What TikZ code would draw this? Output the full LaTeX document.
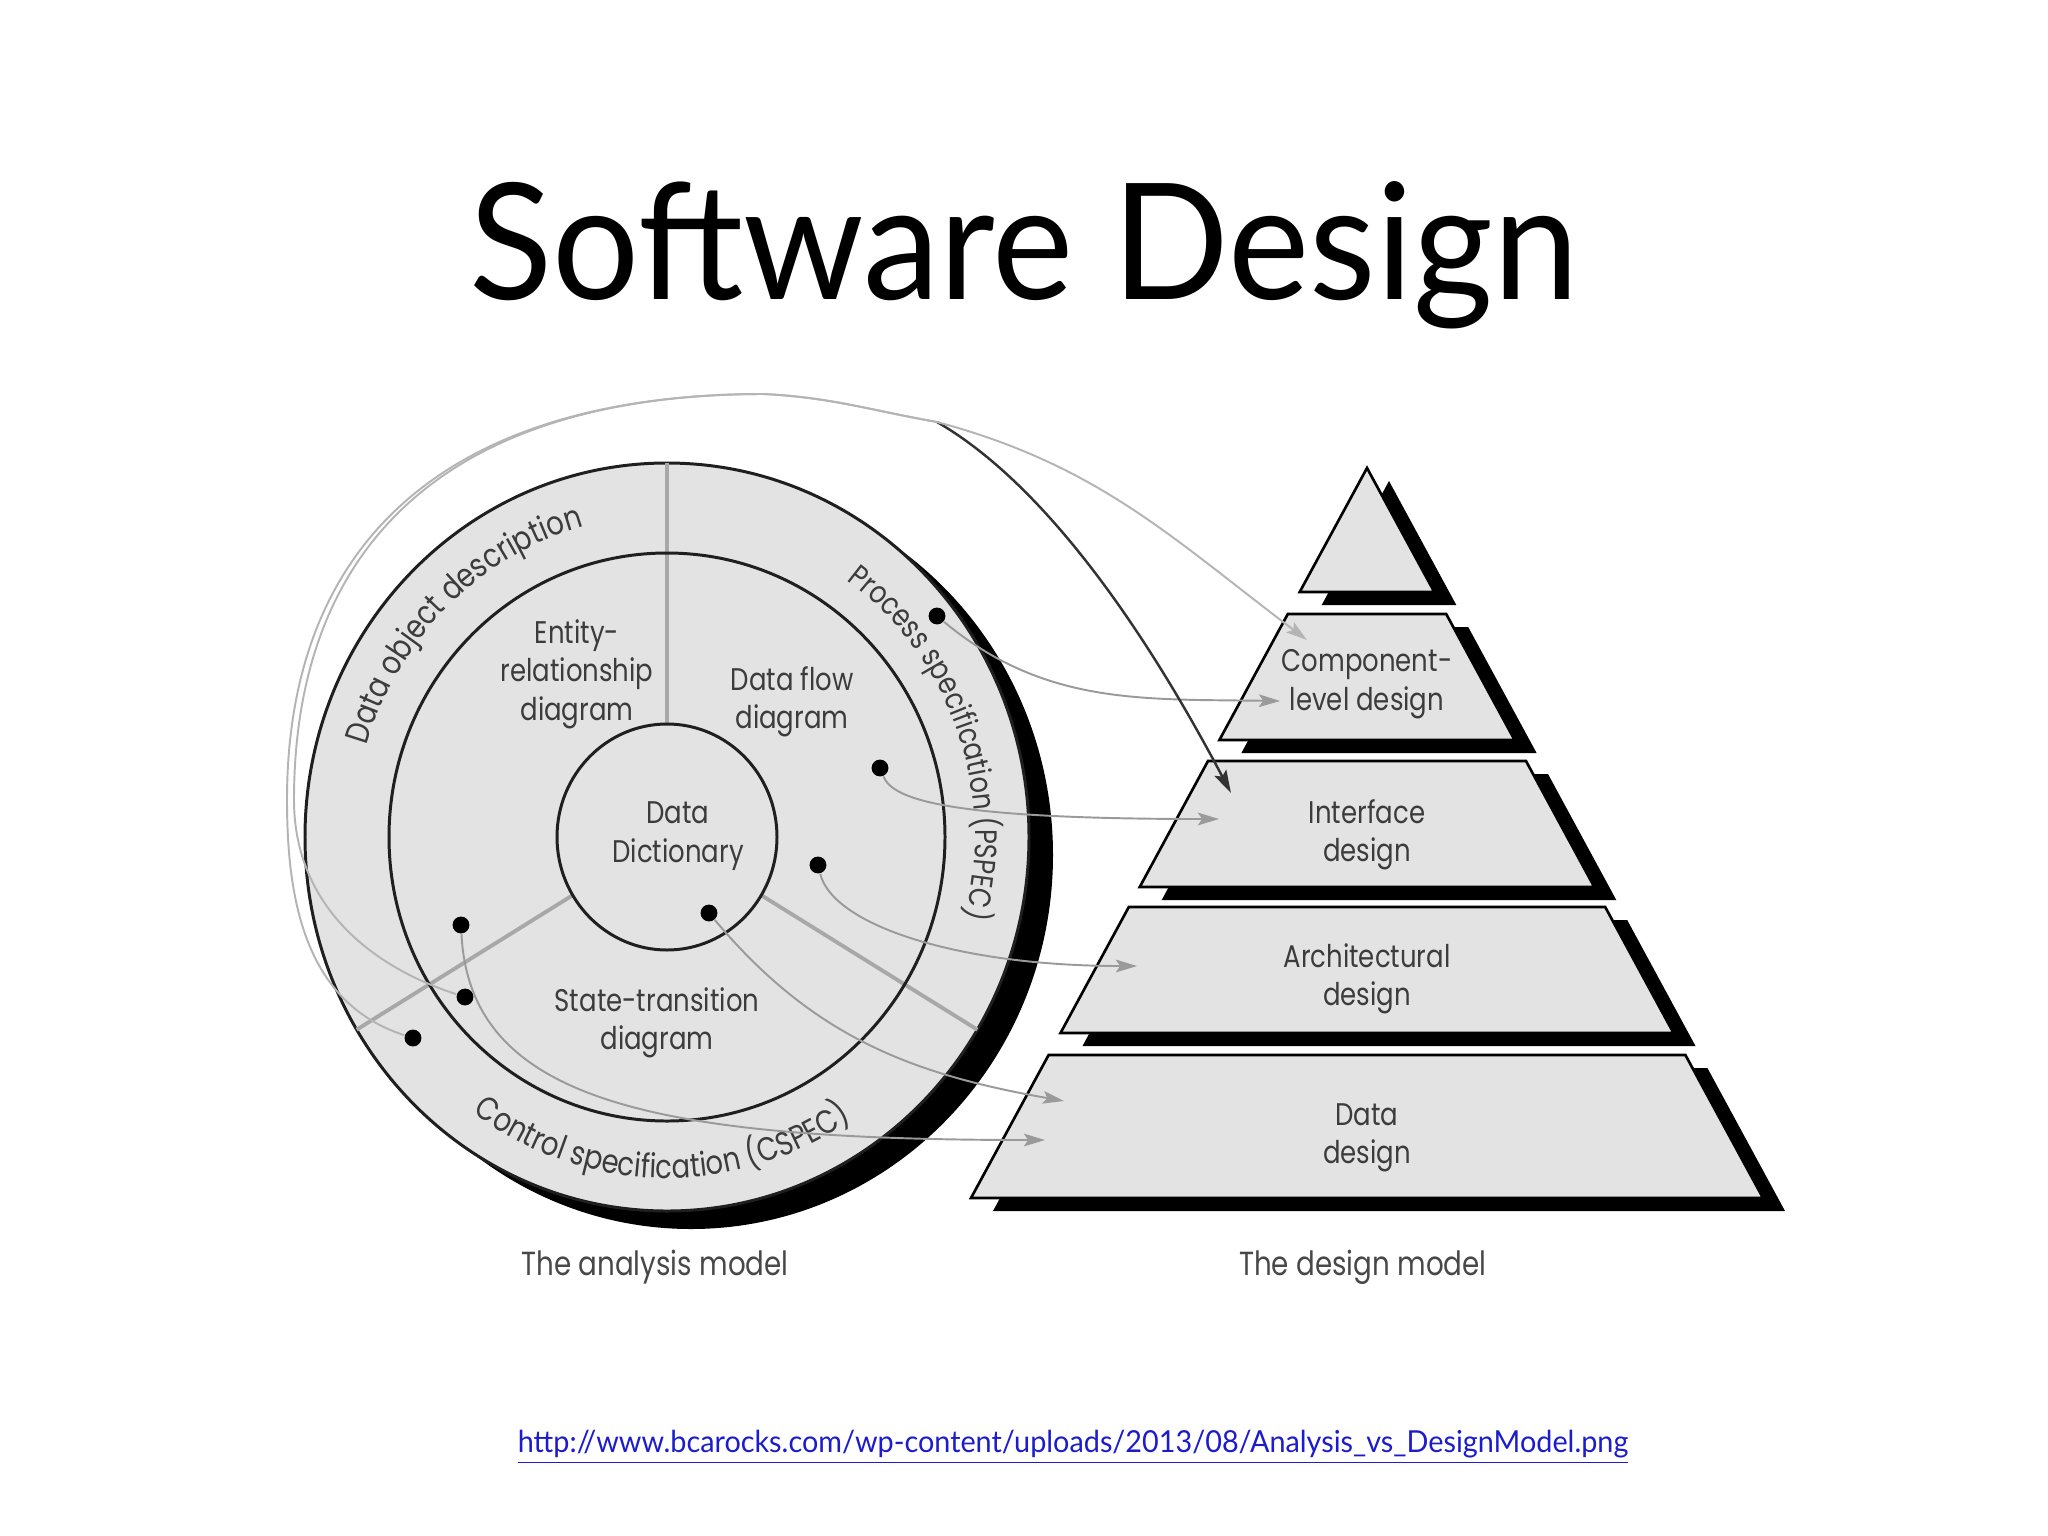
\documentclass[tikz,border=0pt]{standalone}
\usepackage{fontspec}
\usetikzlibrary{arrows.meta,calc,decorations.text}
\newfontfamily\futura[FakeStretch=0.83]{Poppins}
\newfontfamily\gill[FakeStretch=0.95]{Lato}
\definecolor{labelgray}{HTML}{3C3C3C}
\definecolor{fillgray}{HTML}{E3E3E3}
\definecolor{spokegray}{HTML}{A8A8A8}
\definecolor{linkgray}{HTML}{9A9A9A}
\definecolor{arcgray}{HTML}{B4B4B4}
\definecolor{urlblue}{RGB}{28,28,205}
\definecolor{captiongray}{HTML}{484848}

\begin{document}
\begin{tikzpicture}[x=0.01cm, y=0.01cm,
  lbl/.style={font=\futura\fontsize{8.9}{10.9}\selectfont, text=labelgray, align=center, inner sep=0},
  circleline/.style={draw=black!88, line width=0.85pt},
  spoke/.style={draw=spokegray, line width=1.1pt},
  dotnode/.style={circle, fill=black, inner sep=0, minimum size=4.8pt},
  flowline/.style={draw=linkgray, line width=0.55pt, -{Stealth[length=6pt,width=3.6pt,inset=1.2pt]}},
  arcline/.style={draw=arcgray, line width=0.55pt},
  blackline/.style={draw=black!80, line width=0.7pt, -{Stealth[length=6.5pt,width=3.8pt,inset=1.2pt]}},
  tierbox/.style={draw=black, line width=0.75pt, fill=fillgray},
  ringtext/.style={decorate, decoration={text along path, text align=center, text color=labelgray}}]
  \path[fill=white] (0,0) rectangle (2048,-1536);
  \useasboundingbox (0,0) rectangle (2048,-1536);

  \node[font=\gill\fontsize{46}{50}\selectfont, anchor=base, inner sep=0] (title) at (1024,-299) {Software Design};

  \coordinate (cen) at (667,-837);
  \fill[black] ($(cen)+(24,-18)$) ellipse [x radius=362, y radius=374];
  \draw[circleline, fill=fillgray] (cen) ellipse [x radius=362, y radius=374];
  \draw[spoke] ($(cen)+(90:110 and 113)$) -- ($(cen)+(90:362 and 374)$);
  \draw[spoke] ($(cen)+(211:110 and 113)$) -- ($(cen)+(211:362 and 374)$);
  \draw[spoke] ($(cen)+(-31:110 and 113)$) -- ($(cen)+(-31:362 and 374)$);
  \draw[circleline] (cen) ellipse [x radius=278, y radius=284];
  \draw[circleline] (cen) ellipse [x radius=110, y radius=113];

  \path[ringtext, decoration={text={|\futura\fontsize{9.4}{10}\selectfont|Data object description}}]
    ($(cen)+(194:313 and 322)$) arc[start angle=194, end angle=74, x radius=313, y radius=322];
  \path[ringtext, decoration={text={|\futura\fontsize{8.8}{10}\selectfont|Process specification (PSPEC)}}]
    ($(cen)+(90:308 and 316)$) arc[start angle=90, end angle=-50, x radius=308, y radius=316];
  \path[ringtext, decoration={text={|\futura\fontsize{9.4}{10}\selectfont|Control specification (CSPEC)}}]
    ($(cen)+(-161:330 and 341)$) arc[start angle=-161, end angle=-21, x radius=330, y radius=341];

  \node[lbl] (erd) at (577,-674) {Entity-\\relationship\\diagram};
  \node[lbl] (dfd) at (792,-702) {Data flow\\diagram};
  \node[lbl] (dd) at (678,-836) {Data\\Dictionary};
  \node[lbl] (std) at (657,-1023) {State-transition\\diagram};

  \node[dotnode] (d1) at (937,-616) {};
  \node[dotnode] (d2) at (880,-768) {};
  \node[dotnode] (d3) at (818,-865) {};
  \node[dotnode] (d4) at (709,-913) {};
  \node[dotnode] (d5) at (461,-925) {};
  \node[dotnode] (d6) at (465,-997) {};
  \node[dotnode] (d7) at (413,-1038) {};

  \fill[black, shift={(22,-13)}] (1367,-468) -- (1434.3,-592) -- (1299.7,-592) -- cycle;
  \fill[black, shift={(22,-13)}] (1287.8,-614) -- (1446.2,-614) -- (1514.6,-740) -- (1219.4,-740) -- cycle;
  \fill[black, shift={(22,-13)}] (1208,-761) -- (1526,-761) -- (1594.3,-887) -- (1139.7,-887) -- cycle;
  \fill[black, shift={(22,-13)}] (1128.8,-907) -- (1605.2,-907) -- (1673.5,-1033) -- (1060.5,-1033) -- cycle;
  \fill[black, shift={(22,-13)}] (1048.6,-1055) -- (1685.4,-1055) -- (1763,-1198) -- (971,-1198) -- cycle;
  \draw[tierbox] (1367,-468) -- (1434.3,-592) -- (1299.7,-592) -- cycle;
  \draw[tierbox] (1287.8,-614) -- (1446.2,-614) -- (1514.6,-740) -- (1219.4,-740) -- cycle;
  \draw[tierbox] (1208,-761) -- (1526,-761) -- (1594.3,-887) -- (1139.7,-887) -- cycle;
  \draw[tierbox] (1128.8,-907) -- (1605.2,-907) -- (1673.5,-1033) -- (1060.5,-1033) -- cycle;
  \draw[tierbox] (1048.6,-1055) -- (1685.4,-1055) -- (1763,-1198) -- (971,-1198) -- cycle;

  \node[lbl] (comp) at (1367,-684) {Component-\\level design};
  \node[lbl] (intf) at (1367,-835) {Interface\\design};
  \node[lbl] (arch) at (1367,-979) {Architectural\\design};
  \node[lbl] (datad) at (1367,-1138) {Data\\design};

  \coordinate (c1) at (1280,-701);
  \coordinate (c2) at (1219,-819);
  \coordinate (c3) at (1137,-966);
  \coordinate (c4) at (1064,-1101);
  \coordinate (c5) at (1045,-1140);
  \coordinate (c6) at (1231,-793);
  \coordinate (c7) at (1307,-640);
  \coordinate (top) at (764,-394);
  \coordinate (fork) at (937,-422);

  \draw[flowline] (d1) .. controls +(107,-89) and +(-139,2) .. (c1);
  \draw[flowline] (d2) .. controls +(13,-32) and +(-270,0) .. (c2);
  \draw[flowline] (d3) .. controls +(15,-60) and +(-180,0) .. (c3);
  \draw[flowline] (d4) to[out=-50,in=170] (c4);
  \draw[flowline] (d5) .. controls +(9,-175) and +(-395,0) .. (c5);
  \draw[arcline] (d6) to[out=162,in=-90] (294,-800) .. controls (294,-535) and (459,-394) .. (top) to[out=-3,in=170] (fork);
  \draw[blackline] (fork) .. controls (1067,-497) and (1175,-687) .. (c6);
  \draw[flowline, draw=arcgray] (d7) to[out=162,in=-90] (287,-800) .. controls (287,-535) and (455,-394) .. (top) to[out=-3,in=170] (fork) to[out=-15,in=143] (c7);

  \node[font=\futura\fontsize{9.5}{11}\selectfont, text=captiongray] (anm) at (655,-1267) {The analysis model};
  \node[font=\futura\fontsize{9.5}{11}\selectfont, text=captiongray] (dsm) at (1363,-1267) {The design model};

  \node[font=\gill\fontsize{8.62}{11}\selectfont, text=urlblue, anchor=base, inner sep=0] (url) at (1073,-1452) {\underline{http://www.bcarocks.com/wp-content/uploads/2013/08/Analysis\_vs\_DesignModel.png}};
\end{tikzpicture}
\end{document}
